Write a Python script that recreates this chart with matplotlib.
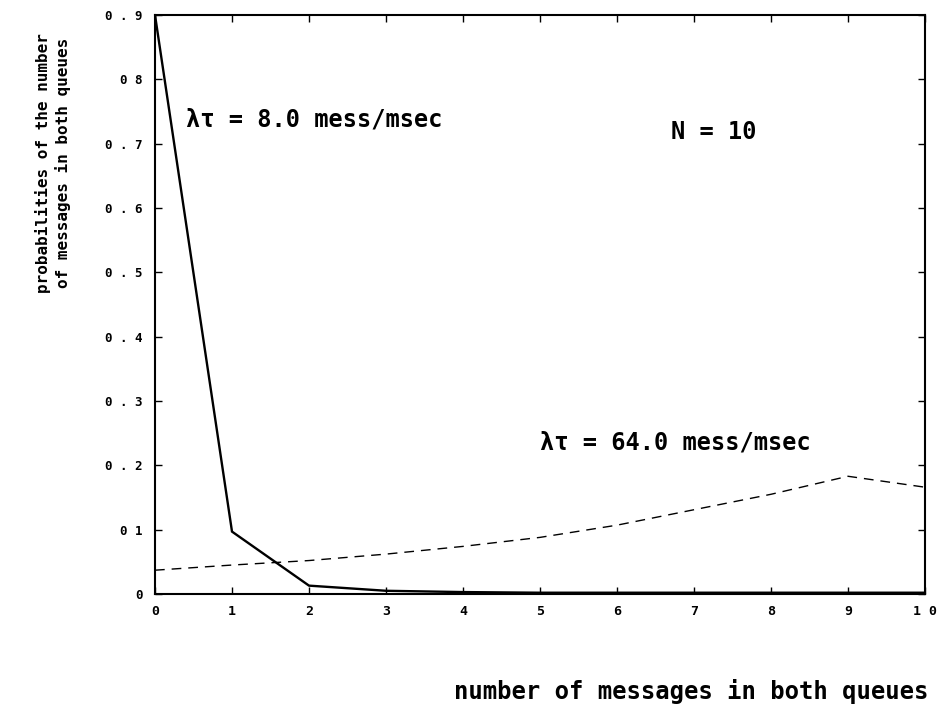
import matplotlib
matplotlib.use("Agg")
import matplotlib.pyplot as plt

# number of messages in both queues
n_messages = [0, 1, 2, 3, 4, 5, 6, 7, 8, 9, 10]

# state probabilities for the two arrival rates
p_low_rate = [0.90, 0.097, 0.013, 0.005, 0.003, 0.002, 0.002, 0.002, 0.002, 0.002, 0.002]
p_high_rate = [0.037, 0.045, 0.052, 0.062, 0.074, 0.088, 0.107, 0.131, 0.155, 0.183, 0.166]

y_ticks = [0.0, 0.1, 0.2, 0.3, 0.4, 0.5, 0.6, 0.7, 0.8, 0.9]
y_tick_labels = ["0", "0 1", "0 . 2", "0 . 3", "0 . 4", "0 . 5", "0 . 6", "0 . 7", "0 8", "0 . 9"]
x_tick_labels = ["0", "1", "2", "3", "4", "5", "6", "7", "8", "9", "1 0"]

mono = "DejaVu Sans Mono"

fig = plt.figure(figsize=(9.4, 7.06), dpi=100)
ax = fig.add_axes([155 / 940, 1 - 594 / 706, (925 - 155) / 940, (594 - 15) / 706])

ax.plot(n_messages, p_low_rate, color="black", lw=1.7, solid_joinstyle="miter")
ax.plot(n_messages, p_high_rate, color="black", lw=1.0, dashes=(7, 5))

ax.set_xlim(0, 10)
ax.set_ylim(0, 0.9)

ax.set_xticks(n_messages)
ax.set_xticklabels(x_tick_labels, fontfamily=mono, fontweight="bold", fontsize=9.5)
ax.set_yticks(y_ticks)
ax.set_yticklabels(y_tick_labels, fontfamily=mono, fontweight="bold", fontsize=9)
ax.tick_params(axis="x", pad=8)
ax.tick_params(axis="y", pad=9)
ax.tick_params(direction="in", length=5, width=1.0, top=True, right=True)

for side in ax.spines.values():
    side.set_linewidth(1.5)

ax.text(0.4, 0.737, "λτ = 8.0 mess/msec", fontfamily=mono, fontweight="bold",
        fontsize=17, va="center", ha="left")
ax.text(6.7, 0.718, "N = 10", fontfamily=mono, fontweight="bold",
        fontsize=17, va="center", ha="left")
ax.text(5.0, 0.236, "λτ = 64.0 mess/msec", fontfamily=mono, fontweight="bold",
        fontsize=17, va="center", ha="left")

fig.text(0.056, 1 - 163 / 706, "probabilities of the number\nof messages in both queues",
         fontfamily=mono, fontweight="bold", fontsize=11.5, rotation=90,
         ha="center", va="center", linespacing=1.3)
fig.text(928 / 940, 1 - 691 / 706, "number of messages in both queues",
         fontfamily=mono, fontweight="bold", fontsize=17.2, ha="right", va="center")

fig.savefig("out.png", dpi=100)
